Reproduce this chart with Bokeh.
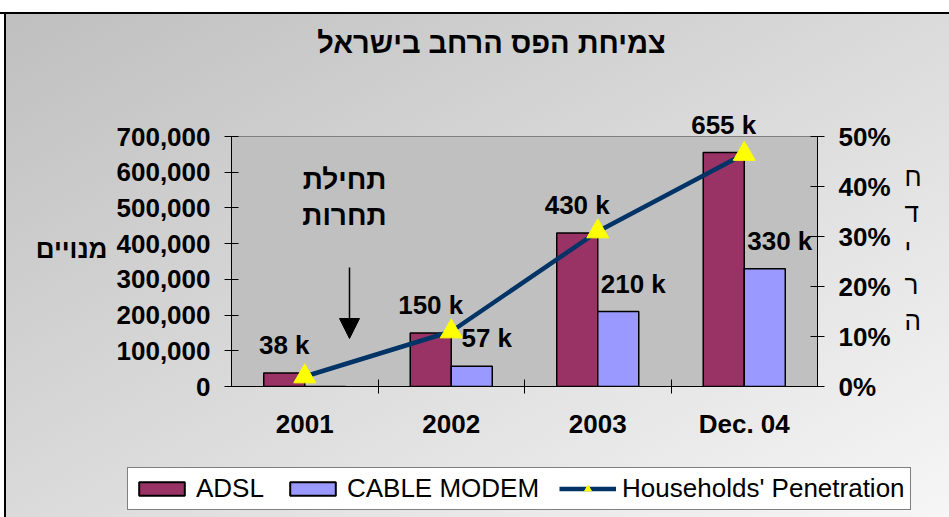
from bokeh.plotting import figure
from bokeh.layouts import column, row
from bokeh.models import (Range1d, LinearAxis, FixedTicker, NumeralTickFormatter,
                          PrintfTickFormatter, Label, LabelSet, Arrow, NormalHead,
                          Legend, LegendItem, ColumnDataSource)
from bokeh.core.properties import value
from bokeh.embed import file_html
from bokeh.resources import INLINE

# ---------------- data ----------------
title_text = "צמיחת הפס הרחב בישראל"
categories = ["2001", "2002", "2003", "Dec. 04"]
adsl = [38000, 150000, 430000, 655000]
cable = [0, 57000, 210000, 330000]
penetration = [2, 11, 31, 46.5]          # percent
adsl_labels = ["38 k", "150 k", "430 k", "655 k"]
cable_labels = ["", "57 k", "210 k", "330 k"]
left_ticks = [0, 100000, 200000, 300000, 400000, 500000, 600000, 700000]
right_ticks = [0, 10, 20, 30, 40, 50]
y_label = "מנויים"
y2_label = "חדירה"
note_lines = ["תחילת", "תחרות"]
series_names = ["ADSL", "CABLE MODEM", "Households' Penetration"]

FONT = "Liberation Sans"
ADSL_COLOR = "#993366"
CABLE_COLOR = "#9999FF"
LINE_COLOR = "#003366"
MARK_COLOR = "#FFFF00"

# category centres at 1,3,5,7 ; boundaries at 2,4,6
xc = [2 * i + 1 for i in range(len(categories))]
xmax = 2 * len(categories)
bw = 0.56
x_adsl = [x - bw / 2 for x in xc]
x_cable = [x + bw / 2 for x in xc]

# ---------------- page geometry (pixels) ----------------
W, H = 949, 517
TOP_H = 110            # title strip height (main frame starts here)
LEG_H = 57             # legend strip height
MAIN_H = H - TOP_H - LEG_H
FL, FR = 231, 817      # plot area left/right
FT, FB = 136, 386      # plot area top (700,000 / 50%) and bottom (0)
y_end = left_ticks[-1] * (FB - TOP_H) / (FB - FT)
p_end = right_ticks[-1] * (FB - TOP_H) / (FB - FT)

common = dict(output_backend="svg", toolbar_location=None, border_fill_color=None,
              background_fill_color=None, outline_line_color=None)

# ---------------- title strip ----------------
tfig = figure(width=W, height=TOP_H, x_range=Range1d(0, W), y_range=Range1d(0, TOP_H),
              x_axis_location=None, y_axis_location=None,
              min_border_left=FL, min_border_right=W - FR, min_border_top=0, min_border_bottom=0,
              **common)
tfig.grid.visible = False
tfig.add_layout(Label(x=491 - FL, y=TOP_H - 42, x_units="screen", y_units="screen",
                      text=title_text, text_align="center", text_baseline="middle",
                      text_font=FONT, text_font_size="29px", text_font_style="bold",
                      text_color="black"))

# ---------------- main chart ----------------
fig = figure(width=W, height=MAIN_H, x_range=Range1d(0, xmax), y_range=Range1d(0, y_end),
             min_border_left=FL, min_border_right=W - FR, min_border_top=0,
             min_border_bottom=TOP_H + MAIN_H - FB, **common)
fig.xgrid.visible = False
fig.ygrid.visible = False
fig.extra_y_ranges = {"pct": Range1d(0, p_end)}

# plot area background (up to the top tick)
fig.quad(left=[0], right=[xmax], bottom=[0], top=[left_ticks[-1]],
         fill_color="#C0C0C0", line_color="#808080", line_width=1)

r_adsl = fig.vbar(x=x_adsl, top=adsl, width=bw, fill_color=ADSL_COLOR,
                  line_color="black", line_width=1.5)
r_cable = fig.vbar(x=x_cable, top=cable, width=bw, fill_color=CABLE_COLOR,
                   line_color="black", line_width=1.5)
fig.line(xc, penetration, y_range_name="pct", line_color=LINE_COLOR, line_width=4.5)
fig.scatter(xc, penetration, y_range_name="pct", marker="triangle", size=22,
            fill_color=MARK_COLOR, line_color=MARK_COLOR)

# value labels
src_a = ColumnDataSource(dict(x=x_adsl, y=adsl, t=adsl_labels))
ci = [i for i, v in enumerate(cable) if v > 0]
src_c = ColumnDataSource(dict(x=[x_cable[i] for i in ci], y=[cable[i] for i in ci],
                              t=[cable_labels[i] for i in ci]))
for src, xo in ((src_a, 0), (src_c, 15)):
    fig.add_layout(LabelSet(x="x", y="y", text="t", source=src, x_offset=xo, y_offset=28,
                            text_align="center", text_baseline="middle",
                            text_font=value(FONT), text_font_size=value("26px"),
                            text_font_style=value("bold"), text_color="black"))

# axes
xa = fig.xaxis[0]
xa.ticker = FixedTicker(ticks=xc, minor_ticks=[2 * i for i in range(1, len(categories))])
xa.major_label_overrides = {x: c for x, c in zip(xc, categories)}
xa.major_tick_line_color = None
xa.major_tick_in = 0
xa.major_tick_out = 0
xa.minor_tick_line_color = "black"
xa.minor_tick_in = 7
xa.minor_tick_out = 7
xa.axis_line_color = "black"
xa.major_label_standoff = 15
xa.major_label_text_font = FONT
xa.major_label_text_font_size = "26px"
xa.major_label_text_font_style = "bold"
xa.major_label_text_color = "black"

ya = fig.yaxis[0]
ya.ticker = FixedTicker(ticks=left_ticks, minor_ticks=[])
ya.formatter = NumeralTickFormatter(format="0,0")
ya.bounds = (left_ticks[0], left_ticks[-1])
ya.axis_label = y_label
ya.axis_label_orientation = "horizontal"
ya.axis_label_text_font = FONT
ya.axis_label_text_font_size = "26px"
ya.axis_label_text_font_style = "bold"
ya.axis_label_text_color = "black"
ya.axis_label_standoff = 6

ya2 = LinearAxis(y_range_name="pct", ticker=FixedTicker(ticks=right_ticks, minor_ticks=[]),
                 formatter=PrintfTickFormatter(format="%d%%"),
                 bounds=(right_ticks[0], right_ticks[-1]))
ya2.axis_label = "\n".join(y2_label)
ya2.axis_label_orientation = "horizontal"
ya2.axis_label_text_font = FONT
ya2.axis_label_text_font_size = "26px"
ya2.axis_label_text_font_style = "normal"
ya2.axis_label_text_color = "black"
ya2.axis_label_text_line_height = 1.2
ya2.axis_label_standoff = 11
fig.add_layout(ya2, "right")
for ax in (ya, ya2):
    ax.axis_line_color = "black"
    ax.major_tick_line_color = "black"
    ax.major_tick_in = 7
    ax.major_tick_out = 7
    ax.minor_tick_line_color = None
    ax.major_label_standoff = 14
    ax.major_label_text_font = FONT
    ax.major_label_text_font_size = "26px"
    ax.major_label_text_font_style = "bold"
    ax.major_label_text_color = "black"

# annotation inside the plot (screen px relative to frame bottom-left)
for k, line in enumerate(note_lines):
    fig.add_layout(Label(x=344 - FL, y=FB - 179 - 36 * k, x_units="screen", y_units="screen",
                         text=line, text_align="center", text_baseline="middle", text_font=FONT,
                         text_font_size="28px", text_font_style="bold", text_color="black"))
fig.add_layout(Arrow(x_start=349 - FL, y_start=FB - 267, x_end=349 - FL, y_end=FB - 338,
                     start_units="screen", end_units="screen", line_color="black", line_width=1.5,
                     end=NormalHead(size=20, fill_color="black", line_color="black")))

# ---------------- legend strip ----------------
# proxy renderers with a single NaN point: nothing is drawn, only the legend swatches
nan = float("nan")
lfig = figure(width=W, height=LEG_H, x_range=Range1d(0, xmax), y_range=Range1d(0, 1),
              x_axis_location=None, y_axis_location=None, min_border=0, **common)
lfig.grid.visible = False
l_adsl = lfig.vbar(x=[nan], top=[nan], width=bw, fill_color=ADSL_COLOR, line_color="black", line_width=2)
l_cable = lfig.vbar(x=[nan], top=[nan], width=bw, fill_color=CABLE_COLOR, line_color="black", line_width=2)
l_line = lfig.line(x=[nan], y=[nan], line_color=LINE_COLOR, line_width=4.5)
l_mark = lfig.scatter(x=[nan], y=[nan], marker="triangle", size=22,
                      fill_color=MARK_COLOR, line_color=MARK_COLOR)
legend = Legend(items=[LegendItem(label=series_names[0], renderers=[l_adsl]),
                       LegendItem(label=series_names[1], renderers=[l_cable]),
                       LegendItem(label=series_names[2], renderers=[l_line, l_mark])],
                location=(127, H - 510), orientation="horizontal",
                border_line_color="black", border_line_width=1,
                background_fill_color="white", background_fill_alpha=1,
                label_text_font=FONT, label_text_font_size="26px", label_text_color="black",
                glyph_width=57, glyph_height=17, label_standoff=6, spacing=20,
                padding=5, margin=0, label_height=20)
lfig.add_layout(legend)

p = column(row(tfig), fig, row(lfig), spacing=0, width=W, height=H)
p.styles = {
    "background": "linear-gradient(to bottom, #ffffff 0px, #ffffff 12px, #000000 12px, #000000 14px, rgba(0,0,0,0) 14px), "
                  "linear-gradient(to right, #ffffff 0px, #ffffff 4px, #000000 4px, #000000 6px, rgba(0,0,0,0) 6px), "
                  "linear-gradient(to bottom right, #bebebe 0%, #dadada 50%, #f6f6f6 100%)"
}

open("out.html", "w").write(file_html(p, INLINE))
